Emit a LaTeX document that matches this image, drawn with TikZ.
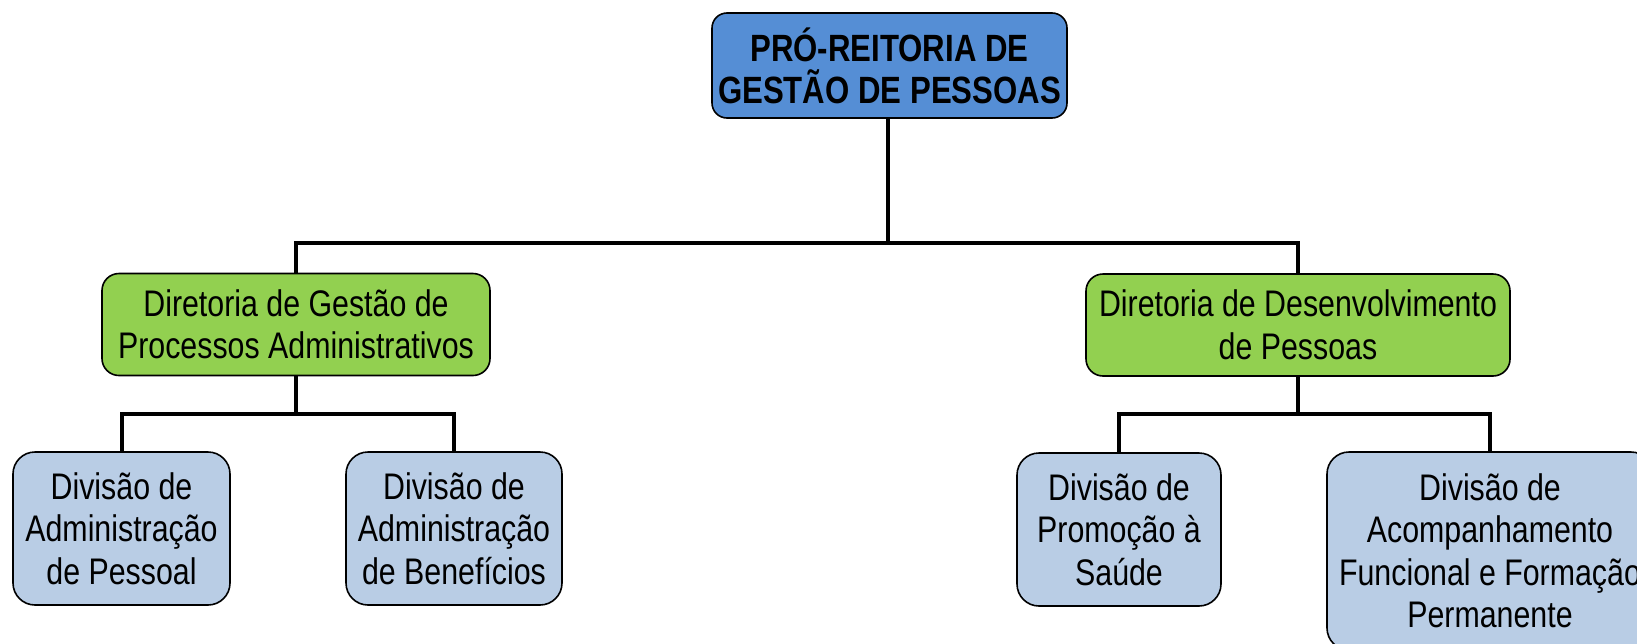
\documentclass[tikz,border=0pt]{standalone}
\usepackage{fontspec}
\setmainfont{Liberation Sans}
\newfontfamily\narrowfont[FakeStretch=0.82]{Liberation Sans}
\definecolor{topblue}{RGB}{85,142,213}
\definecolor{dirgreen}{RGB}{146,208,80}
\definecolor{divblue}{RGB}{185,205,229}
\tikzset{
  box/.style={draw=black, line width=1.6pt, rounded corners=18pt, align=center,
    inner sep=0pt, font=\narrowfont\fontsize{37}{42.5}\selectfont},
  topbox/.style={box, fill=topblue, rounded corners=15pt,
    font=\narrowfont\bfseries\fontsize{38}{42}\selectfont},
  dirbox/.style={box, fill=dirgreen, rounded corners=17pt},
  divbox/.style={box, fill=divblue, rounded corners=22pt},
  conn/.style={draw=black, line width=4pt}
}
\begin{document}
\begin{tikzpicture}[x=1pt, y=-1pt]
\useasboundingbox (0,0) rectangle (1637,643);
\clip (0,0) rectangle (1637,643);

\node[topbox, minimum width=355pt, minimum height=105pt] (top) at (889.5,65.5)
  {PRÓ-REITORIA DE\\GESTÃO DE PESSOAS};

\node[dirbox, minimum width=388pt, minimum height=102pt] (g1) at (296,324.5)
  {Diretoria de Gestão de\\Processos Administrativos};
\node[dirbox, minimum width=424pt, minimum height=102pt] (g2) at (1298,325)
  {Diretoria de Desenvolvimento\\de Pessoas};

\node[divbox, minimum width=217pt, minimum height=153pt] (b1) at (121.5,528.5)
  {Divisão de\\Administração\\de Pessoal};
\node[divbox, minimum width=216pt, minimum height=153pt] (b2) at (454,528.5)
  {Divisão de\\Administração\\de Benefícios};
\node[divbox, minimum width=204pt, minimum height=153pt] (b3) at (1119,529.5)
  {Divisão de\\Promoção à\\Saúde};
\node[divbox, minimum width=326pt, minimum height=198pt] (b4) at (1490,551)
  {Divisão de\\Acompanhamento\\Funcional e Formação\\Permanente};

\coordinate (j0) at (888,243);
\coordinate (j1) at (296,414);
\coordinate (j2) at (1298,414);

\draw[conn] (top.south -| j0) -- (j0);
\draw[conn] (g1.north) -- (g1.north |- j0) -- (g2.north |- j0) -- (g2.north);

\draw[conn] (g1.south) -- (j1);
\draw[conn] (b1.north) -- (b1.north |- j1) -- (b2.north |- j1) -- (b2.north);

\draw[conn] (g2.south) -- (j2);
\draw[conn] (b3.north) -- (b3.north |- j2) -- (b4.north |- j2) -- (b4.north);
\end{tikzpicture}
\end{document}
